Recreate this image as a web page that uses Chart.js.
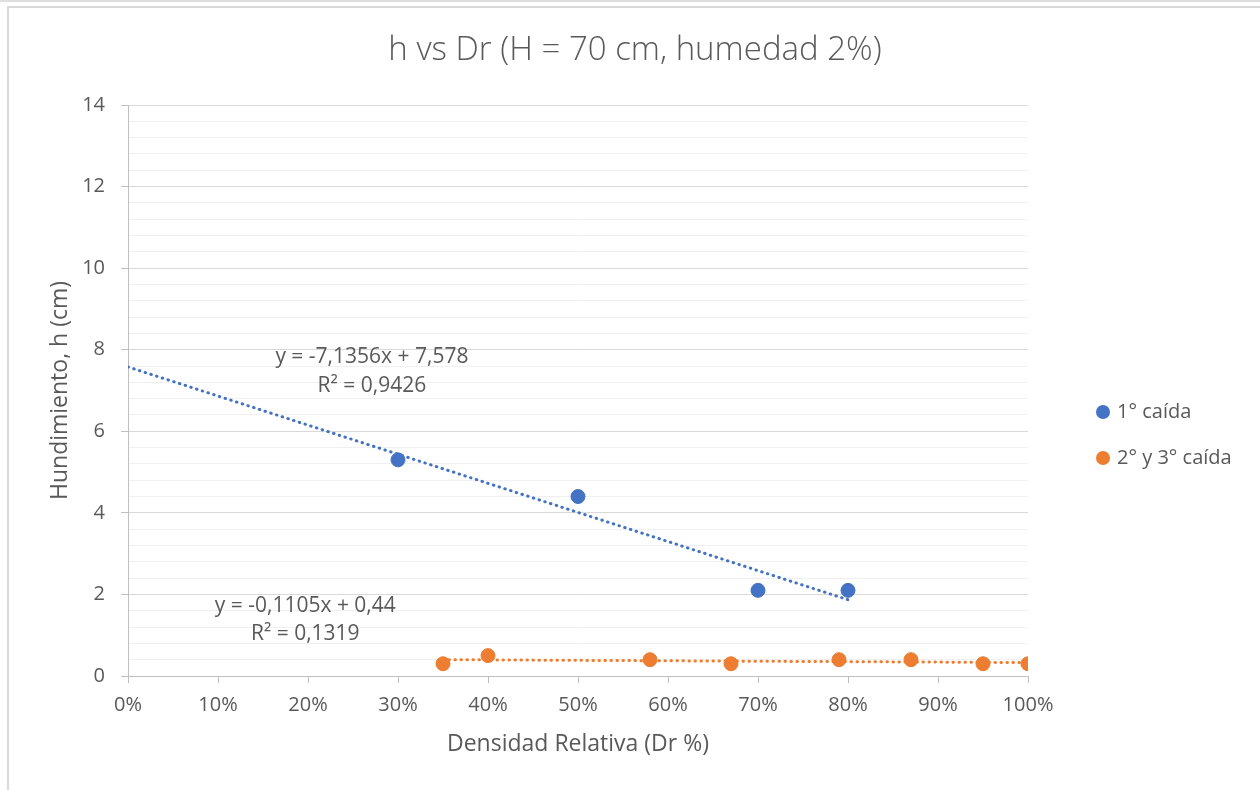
<!DOCTYPE html>
<html>
<head>
<meta charset="utf-8">
<title>h vs Dr</title>
<script src="https://cdn.jsdelivr.net/npm/chart.js@4.4.1/dist/chart.umd.min.js"></script>
<style>
  html, body { margin: 0; padding: 0; background: #fff; }
  #wrap { position: relative; width: 1260px; height: 790px; overflow: hidden; }
  .topline { position: absolute; left: 0; top: 0; width: 1260px; height: 2px; background: #dedede; }
  .frame { position: absolute; left: 7px; top: 6px; width: 1253px; height: 784px;
           border-top: 2px solid #d9d9d9; border-left: 2px solid #d9d9d9; }
  canvas { position: absolute; left: 0; top: 0; }
</style>
</head>
<body>
<div id="wrap">
  <div class="topline"></div>
  <div class="frame"></div>
  <canvas id="chart" width="1260" height="790"></canvas>
</div>
<script>
// values
const drFirst = [0.30, 0.50, 0.70, 0.80];
const hFirst = [5.3, 4.4, 2.1, 2.1];
const drLater = [0.35, 0.40, 0.58, 0.67, 0.79, 0.87, 0.95, 1.00];
const hLater = [0.3, 0.5, 0.4, 0.3, 0.4, 0.4, 0.3, 0.3];

// linear trendlines (endpoints)
const trendFirstX = [0, 0.80];
const trendFirstY = [7.578, 1.87];
const trendLaterX = [0.35, 1.00];
const trendLaterY = [0.40, 0.33];

const chartTitle = 'h vs Dr (H = 70 cm, humedad 2%)';
const seriesLabels = ['1° caída', '2° y 3° caída'];
const trendText = [
  ['y = -7,1356x + 7,578', 'R² = 0,9426'],
  ['y = -0,1105x + 0,44', 'R² = 0,1319']
];

const BLUE = '#4472C4';
const ORANGE = '#ED7D31';
const TEXT = '#595959';
const FONT = '"Open Sans", "Noto Sans", sans-serif';

const toPoints = (xs, ys) => xs.map((x, i) => ({ x: x, y: ys[i] }));
const isMajor = v => Math.abs(v / 2 - Math.round(v / 2)) < 1e-6;

// title centred on the whole picture, not on the plot
const titlePlugin = {
  id: 'pageTitle',
  afterDraw(chart) {
    const { ctx } = chart;
    ctx.save();
    ctx.font = '300 33px ' + FONT;
    ctx.fillStyle = TEXT;
    ctx.textAlign = 'center';
    ctx.textBaseline = 'middle';
    ctx.fillText(chartTitle, 635, 51);
    ctx.restore();
  }
};

// equation labels next to the trendlines (anchored in data units)
const trendLabelPlugin = {
  id: 'trendLabels',
  afterDatasetsDraw(chart) {
    const { ctx, scales: { x, y } } = chart;
    const anchors = [{ x: 0.271, y: [7.82, 7.1] }, { x: 0.197, y: [1.72, 1.03] }];
    ctx.save();
    ctx.font = '21px ' + FONT;
    ctx.fillStyle = TEXT;
    ctx.textAlign = 'center';
    ctx.textBaseline = 'middle';
    anchors.forEach((a, i) => {
      trendText[i].forEach((line, j) => {
        ctx.fillText(line, x.getPixelForValue(a.x), y.getPixelForValue(a.y[j]));
      });
    });
    ctx.restore();
  }
};

// legend on the right, like Excel
const sideLegendPlugin = {
  id: 'sideLegend',
  afterDraw(chart) {
    const { ctx } = chart;
    const colors = [BLUE, ORANGE];
    ctx.save();
    ctx.font = '20px ' + FONT;
    ctx.textBaseline = 'middle';
    seriesLabels.forEach((label, i) => {
      const cy = 412 + i * 46;
      ctx.beginPath();
      ctx.arc(1103, cy, 7, 0, Math.PI * 2);
      ctx.fillStyle = colors[i];
      ctx.fill();
      ctx.fillStyle = TEXT;
      ctx.fillText(label, 1117, cy);
    });
    ctx.restore();
  }
};

const ctx = document.getElementById('chart').getContext('2d');

new Chart(ctx, {
  type: 'scatter',
  data: {
    datasets: [
      {
        label: seriesLabels[0],
        data: toPoints(drFirst, hFirst),
        backgroundColor: BLUE,
        borderColor: BLUE,
        pointRadius: 7,
        order: 0
      },
      {
        label: seriesLabels[1],
        data: toPoints(drLater, hLater),
        backgroundColor: ORANGE,
        borderColor: ORANGE,
        pointRadius: 7,
        order: 0
      },
      {
        label: 'trend 1',
        data: toPoints(trendFirstX, trendFirstY),
        showLine: true,
        borderColor: BLUE,
        borderWidth: 3,
        borderDash: [0.5, 5.5],
        borderCapStyle: 'round',
        pointRadius: 0,
        order: 1
      },
      {
        label: 'trend 2',
        data: toPoints(trendLaterX, trendLaterY),
        showLine: true,
        borderColor: ORANGE,
        borderWidth: 3,
        borderDash: [0.5, 5.5],
        borderCapStyle: 'round',
        pointRadius: 0,
        order: 1
      }
    ]
  },
  options: {
    responsive: false,
    animation: false,
    layout: { padding: { left: 0, right: 232, top: 105, bottom: 24 } },
    plugins: {
      legend: { display: false },
      tooltip: { enabled: false },
      title: { display: false }
    },
    scales: {
      x: {
        type: 'linear',
        min: 0,
        max: 1,
        afterFit: s => { s.height = 90; },
        border: { color: '#bfbfbf', width: 1 },
        grid: { drawOnChartArea: false, drawTicks: true, tickLength: 7, tickColor: '#bfbfbf' },
        ticks: {
          stepSize: 0.1,
          color: TEXT,
          font: { family: FONT, size: 20 },
          padding: 10,
          callback: v => Math.round(v * 100) + '%'
        },
        title: {
          display: true,
          text: 'Densidad Relativa (Dr %)',
          color: TEXT,
          font: { family: FONT, size: 23 },
          padding: { top: 4, bottom: 8 }
        }
      },
      y: {
        type: 'linear',
        min: 0,
        max: 14,
        afterFit: s => { s.width = 128; },
        border: { color: '#bfbfbf', width: 1 },
        grid: {
          color: c => isMajor(c.tick.value) ? '#d9d9d9' : '#f0f0f0',
          tickColor: c => isMajor(c.tick.value) ? '#bfbfbf' : 'rgba(0,0,0,0)',
          tickLength: 7,
          lineWidth: 1
        },
        ticks: {
          stepSize: 0.4,
          color: TEXT,
          font: { family: FONT, size: 20 },
          padding: 16,
          autoSkip: false,
          callback: v => isMajor(v) ? String(Math.round(v)) : ''
        },
        title: {
          display: true,
          text: 'Hundimiento, h (cm)',
          color: TEXT,
          font: { family: FONT, size: 23 },
          padding: { top: 47, bottom: 0 }
        }
      }
    }
  },
  plugins: [titlePlugin, trendLabelPlugin, sideLegendPlugin]
});
</script>
</body>
</html>
